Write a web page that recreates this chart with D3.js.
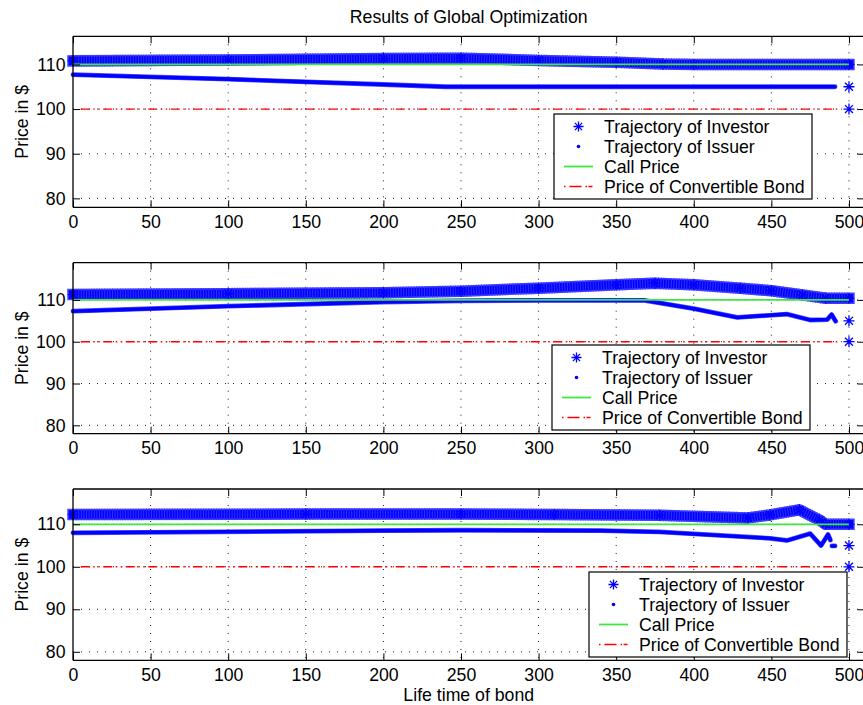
<!DOCTYPE html>
<html>
<head>
<meta charset="utf-8">
<script src="https://cdn.jsdelivr.net/npm/d3@7"></script>
<style>
  html, body { margin: 0; padding: 0; background: #fff; }
  svg { display: block; }
  text { font-family: "Liberation Sans", Arial, Helvetica, sans-serif; fill: #000; }
</style>
</head>
<body>
<div id="chart"></div>
<script>
// ---------------- data ----------------
const title = "Results of Global Optimization";
const xLabel = "Life time of bond";
const yLabel = "Price in $";
const legendLabels = ["Trajectory of Investor", "Trajectory of Issuer", "Call Price", "Price of Convertible Bond"];
const xTicks = [0, 50, 100, 150, 200, 250, 300, 350, 400, 450, 500];
const yTicks = [80, 90, 100, 110];
const callPrice = 110;
const callRange = [0, 500];
const bondPrice = 100;
const bondRange = [5, 493];

// panel 1
const investor1 = [[0,110.8],[100,111.0],[200,111.3],[250,111.4],[300,110.9],[350,110.5],[380,110.1],[400,110.0],[500,110.0]];
const issuer1 = [[0,107.7],[50,107.2],[100,106.7],[150,106.1],[200,105.5],[240,105.0],[491,105.0]];
const issuer1Tail = [];
// panel 2
const investor2 = [[0,111.3],[100,111.5],[200,111.7],[250,112.1],[300,112.8],[350,113.6],[375,114.0],[400,113.6],[430,112.8],[450,112.2],[470,111.2],[485,110.4],[500,110.4]];
const issuer2 = [[0,107.3],[100,108.5],[200,109.5],[250,109.8],[300,109.9],[368,109.9],[400,107.9],[428,105.8],[460,106.6],[475,105.2],[486,105.3],[488.8,106.5],[491.4,104.9]];
const issuer2Tail = [];
// panel 3
const investor3 = [[0,112.3],[150,112.4],[250,112.4],[310,112.3],[378,112.1],[435,111.5],[449,112.2],[468,113.4],[481,111.0],[485,110.0],[500,110.0]];
const issuer3 = [[0,108.0],[200,108.5],[250,108.6],[340,108.5],[378,108.2],[449,106.7],[460,106.2],[475,107.8],[482,105.0],[486.5,107.6],[488,106.3]];
const issuer3Tail = [[489,104.9],[491,104.9]];
// final investor points (all panels)
const investorEnd = [[500,105],[500,100]];

// ---------------- layout ----------------
const W = 863, H = 705;
const xDomain = [0, 510];
const xRange = [73, 864.5];
const panels = [
  { investor: investor1, issuer: issuer1, tail: issuer1Tail, top: 36.3, bottom: 207.3, yDomain: [78, 116.3], legend: [554, 114] },
  { investor: investor2, issuer: issuer2, tail: issuer2Tail, top: 262.7, bottom: 433.7, yDomain: [78, 118.9], legend: [552, 345] },
  { investor: investor3, issuer: issuer3, tail: issuer3Tail, top: 489, bottom: 660.3, yDomain: [78, 118.3], legend: [589, 572] }
];
const FONT = 17.7;
const BLUE = "#0000ff";
const GREEN = "#3fe83f";
const RED = "#ff0000";
const RED_DASH = "9,3.5,1.5,3.5,1.5,3.5";
const GRID_DASH = "1,7";

const svg = d3.select("#chart").append("svg").attr("width", W).attr("height", H);
svg.append("rect").attr("width", W).attr("height", H).attr("fill", "#fff");

const x = d3.scaleLinear().domain(xDomain).range(xRange);

function starPath(r) {
  const d = r * 0.72;
  return `M${-r},0L${r},0M0,${-r}L0,${r}M${-d},${-d}L${d},${d}M${-d},${d}L${d},${-d}`;
}

svg.append("text")
  .attr("x", (xRange[0] + xRange[1]) / 2).attr("y", 22.7)
  .attr("text-anchor", "middle").attr("font-size", FONT)
  .text(title);

panels.forEach((p, i) => {
  const y = d3.scaleLinear().domain(p.yDomain).range([p.bottom, p.top]);
  const g = svg.append("g");
  const clipId = "clip" + i;
  svg.append("clipPath").attr("id", clipId).append("rect")
    .attr("x", xRange[0] - 8).attr("y", p.top).attr("width", xRange[1] - xRange[0] + 16).attr("height", p.bottom - p.top);

  // grid
  const grid = g.append("g").attr("stroke", "#000").attr("stroke-width", 0.9).attr("stroke-dasharray", GRID_DASH);
  grid.selectAll("line.vx").data(xTicks.filter(t => t > 0)).join("line")
    .attr("x1", d => x(d)).attr("x2", d => x(d)).attr("y1", p.top).attr("y2", p.bottom);
  grid.selectAll("line.hy").data(yTicks).join("line")
    .attr("x1", xRange[0]).attr("x2", xRange[1]).attr("y1", d => y(d)).attr("y2", d => y(d));

  const line = d3.line().x(d => x(d[0])).y(d => y(d[1]));
  const plot = g.append("g").attr("clip-path", `url(#${clipId})`);

  // investor band (dense stars)
  plot.append("path").datum(p.investor).attr("d", line).attr("fill", "none")
    .attr("stroke", "#4646ff").attr("stroke-width", 11.5).attr("stroke-linecap", "square").attr("stroke-linejoin", "round");
  plot.append("path").datum(p.investor).attr("d", line).attr("fill", "none")
    .attr("stroke", BLUE).attr("stroke-width", 8.5).attr("stroke-linecap", "square").attr("stroke-linejoin", "round");
  plot.append("path").datum(p.investor).attr("d", line).attr("fill", "none")
    .attr("stroke", "#3030ff").attr("stroke-width", 11.5).attr("stroke-dasharray", "1,1.6").attr("stroke-linejoin", "round");
  plot.selectAll("path.st").data(p.investor).join("path").attr("class", "st")
    .attr("transform", d => `translate(${x(d[0])},${y(d[1])})`)
    .attr("d", starPath(5.5)).attr("stroke", BLUE).attr("stroke-width", 1.2).attr("fill", "none");

  // issuer (dense dots)
  [p.issuer, p.tail].filter(a => a.length).forEach(arr => {
    plot.append("path").datum(arr).attr("d", line).attr("fill", "none")
      .attr("stroke", "#5050ff").attr("stroke-width", 4.8).attr("stroke-linecap", "round").attr("stroke-linejoin", "round");
    plot.append("path").datum(arr).attr("d", line).attr("fill", "none")
      .attr("stroke", BLUE).attr("stroke-width", 3.6).attr("stroke-linecap", "round").attr("stroke-linejoin", "round");
  });

  // call price
  plot.append("line").attr("x1", x(callRange[0])).attr("x2", x(callRange[1]))
    .attr("y1", y(callPrice)).attr("y2", y(callPrice)).attr("stroke", GREEN).attr("stroke-width", 1.8);
  // convertible bond price
  plot.append("line").attr("x1", x(bondRange[0])).attr("x2", x(bondRange[1]))
    .attr("y1", y(bondPrice)).attr("y2", y(bondPrice)).attr("stroke", RED).attr("stroke-width", 1.4)
    .attr("stroke-dasharray", RED_DASH);

  // final investor stars
  plot.selectAll("path.end").data(investorEnd).join("path").attr("class", "end")
    .attr("transform", d => `translate(${x(d[0])},${y(d[1])})`)
    .attr("d", starPath(5.5)).attr("stroke", BLUE).attr("stroke-width", 1.3).attr("fill", "none");

  // axes box
  g.append("line").attr("x1", xRange[0]).attr("x2", xRange[0]).attr("y1", p.top).attr("y2", p.bottom).attr("stroke", "#000").attr("stroke-width", 1.3);
  g.append("line").attr("x1", xRange[0]).attr("x2", xRange[1]).attr("y1", p.bottom).attr("y2", p.bottom).attr("stroke", "#000").attr("stroke-width", 1.3);
  g.append("line").attr("x1", xRange[0]).attr("x2", xRange[1]).attr("y1", p.top).attr("y2", p.top).attr("stroke", "#000").attr("stroke-width", 1.3);

  // ticks (inward, all sides) via d3 axes
  const TL = 7;
  const xb = g.append("g").attr("transform", `translate(0,${p.bottom})`)
    .call(d3.axisBottom(x).tickValues(xTicks).tickSize(-TL).tickPadding(8.2).tickFormat(d3.format("d")));
  const xt = g.append("g").attr("transform", `translate(0,${p.top})`)
    .call(d3.axisTop(x).tickValues(xTicks).tickSize(-TL).tickFormat(""));
  const yl = g.append("g").attr("transform", `translate(${xRange[0]},0)`)
    .call(d3.axisLeft(y).tickValues(yTicks).tickSize(-TL).tickPadding(7.5).tickFormat(d3.format("d")));
  const yr = g.append("g").attr("transform", `translate(${xRange[1]},0)`)
    .call(d3.axisRight(y).tickValues(yTicks).tickSize(-TL).tickFormat(""));
  [xb, xt, yl, yr].forEach(a => {
    a.select(".domain").remove();
    a.selectAll(".tick line").attr("stroke", "#000").attr("stroke-width", 1);
    a.selectAll("text").attr("font-size", FONT).attr("font-family", '"Liberation Sans", Arial, sans-serif').attr("fill", "#000");
  });

  // y label
  g.append("text").attr("transform", `translate(27.5,${(p.top + p.bottom) / 2}) rotate(-90)`)
    .attr("text-anchor", "middle").attr("font-size", FONT).text(yLabel);

  // legend
  const [lx, ly] = p.legend;
  const lg = g.append("g").attr("transform", `translate(${lx},${ly})`);
  lg.append("rect").attr("width", 258).attr("height", 85).attr("fill", "#fff").attr("stroke", "#000").attr("stroke-width", 1.2);
  const rows = lg.selectAll("g.row").data(legendLabels).join("g").attr("class", "row")
    .attr("transform", (d, k) => `translate(0,${12.5 + k * 20})`);
  rows.append("text").attr("x", 50).attr("y", 6.3).attr("font-size", FONT).text(d => d);
  lg.append("path").attr("transform", "translate(24.5,12.5)").attr("d", starPath(5)).attr("stroke", BLUE).attr("stroke-width", 1.3).attr("fill", "none");
  lg.append("circle").attr("cx", 24.5).attr("cy", 32.5).attr("r", 1.8).attr("fill", BLUE);
  lg.append("line").attr("x1", 10).attr("x2", 39).attr("y1", 52.5).attr("y2", 52.5).attr("stroke", GREEN).attr("stroke-width", 1.8);
  lg.append("line").attr("x1", 10).attr("x2", 39).attr("y1", 72.5).attr("y2", 72.5).attr("stroke", RED).attr("stroke-width", 1.3)
    .attr("stroke-dasharray", "1.5,4,12,4,1.5");
});

svg.append("text")
  .attr("x", (xRange[0] + xRange[1]) / 2).attr("y", 700.8)
  .attr("text-anchor", "middle").attr("font-size", FONT)
  .text(xLabel);
</script>
</body>
</html>
